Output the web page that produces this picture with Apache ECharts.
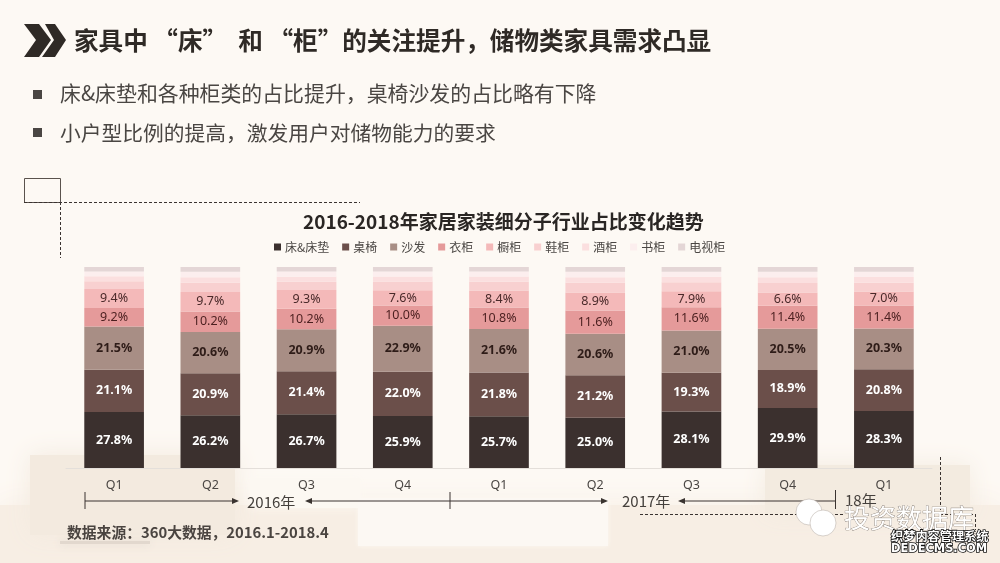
<!DOCTYPE html>
<html>
<head>
<meta charset="utf-8">
<style>
  html, body { margin: 0; padding: 0; background: #fdf9f4; }
  #main { width: 1000px; height: 563px; }
</style>
<script src="https://cdn.jsdelivr.net/npm/echarts@6/dist/echarts.min.js"></script>
</head>
<body>
<div id="main"></div>
<script>
var categories = ['Q1', 'Q2', 'Q3', 'Q4', 'Q1', 'Q2', 'Q3', 'Q4', 'Q1'];
var names = ['床&床垫', '桌椅', '沙发', '衣柜', '橱柜', '鞋柜', '酒柜', '书柜', '电视柜'];
var colors = ['#3b302e', '#6b4f4a', '#a88e85', '#e59a9a', '#f4b9b9', '#f8d0d0', '#fbdfdf', '#fceeee', '#e4d6d6'];

var bed = [27.8, 26.2, 26.7, 25.9, 25.7, 25.0, 28.1, 29.9, 28.3];
var table = [21.1, 20.9, 21.4, 22.0, 21.8, 21.2, 19.3, 18.9, 20.8];
var sofa = [21.5, 20.6, 20.9, 22.9, 21.6, 20.6, 21.0, 20.5, 20.3];
var wardrobe = [9.2, 10.2, 10.2, 10.0, 10.8, 11.6, 11.6, 11.4, 11.4];
var cupboard = [9.4, 9.7, 9.3, 7.6, 8.4, 8.9, 7.9, 6.6, 7.0];
var shoe = [3.9, 4.6, 4.2, 4.4, 4.4, 4.9, 4.5, 4.8, 4.4];
var wine = [2.5, 2.7, 2.5, 2.5, 2.6, 2.7, 2.7, 2.8, 2.8];
var book = [2.4, 2.7, 2.5, 2.4, 2.4, 2.7, 2.5, 2.7, 2.6];
var tv = [2.4, 2.4, 2.3, 2.3, 2.3, 2.4, 2.4, 2.4, 2.4];
var values = [bed, table, sofa, wardrobe, cupboard, shoe, wine, book, tv];

var FONT = '"Noto Sans CJK SC", "Noto Sans", sans-serif';

var labelStyles = [
    { color: '#fff', fontWeight: 'bold' },
    { color: '#fff', fontWeight: 'bold' },
    { color: '#2e1c18', fontWeight: 'bold' },
    { color: '#4a1f1f', fontWeight: 'normal' },
    { color: '#4a2a2a', fontWeight: 'normal' }
];

var series = names.map(function (name, i) {
    return {
        name: name,
        type: 'bar',
        stack: 'total',
        barWidth: '62%',
        itemStyle: { color: colors[i] },
        label: {
            show: i < 5,
            position: 'inside',
            fontFamily: '"Noto Sans", sans-serif',
            fontSize: 12.5,
            color: i < 5 ? labelStyles[i].color : '#000',
            fontWeight: i < 5 ? labelStyles[i].fontWeight : 'normal',
            formatter: function (p) { return p.value.toFixed(1) + '%'; }
        },
        data: values[i]
    };
});

// background shapes, the sofa photo is only hinted at
function bgRect(x, y, w, h, fill, blur) {
    return {
        type: 'rect', z: -5, silent: true,
        shape: { x: x, y: y, width: w, height: h },
        style: { fill: fill, shadowBlur: blur || 0, shadowColor: fill }
    };
}
function line(x1, y1, x2, y2, dashed, color) {
    return {
        type: 'line', z: 5, silent: true,
        shape: { x1: x1, y1: y1, x2: x2, y2: y2 },
        style: { stroke: color || '#3a3330', lineWidth: 1, lineDash: dashed ? [3, 2] : null }
    };
}
function arrowHead(x, y, dir) {
    return {
        type: 'polygon', z: 5, silent: true,
        shape: { points: [[x, y], [x - dir * 7, y - 3], [x - dir * 7, y + 3]] },
        style: { fill: '#3a3330' }
    };
}
function text(x, y, str, size, color, weight, family) {
    return {
        type: 'text', z: 6, silent: true, x: x, y: y,
        style: {
            text: str, fontSize: size, fill: color, fontWeight: weight || 'normal',
            fontFamily: family || FONT, textVerticalAlign: 'middle'
        }
    };
}

var graphics = [
    bgRect(0, 505, 1000, 58, '#f7eee4', 30),
    bgRect(30, 455, 205, 80, '#f3eadf', 24),
    bgRect(765, 465, 205, 50, '#f3ebe0', 24),
    bgRect(60, 541, 90, 3, '#e2d8ce', 10),
    bgRect(250, 478, 110, 30, '#fcf8f2', 10),
    bgRect(358, 498, 250, 48, '#fcf8f3', 4),

    // header
    { type: 'polygon', z: 5, silent: true, shape: { points: [[24, 24], [39, 24], [51, 40], [39, 57], [24, 57], [36, 40]] }, style: { fill: '#2f2a26' } },
    { type: 'polygon', z: 5, silent: true, shape: { points: [[45, 24], [55, 24], [66, 40], [55, 57], [42, 57], [54, 40]] }, style: { fill: '#2f2a26' } },
    text(74, 41, '家具中 “床”  和 “柜”的关注提升，储物类家具需求凸显', 24.6, '#2f2a26', 'bold'),

    bgRect(33, 90, 9, 9, '#4a4643'),
    text(60, 93, '床&床垫和各种柜类的占比提升，桌椅沙发的占比略有下降', 20.9, '#4a4643'),
    bgRect(33, 128, 9, 9, '#4a4643'),
    text(60, 133, '小户型比例的提高，激发用户对储物能力的要求', 20.75, '#4a4643'),

    // dashed frame left over on the slide
    { type: 'rect', z: 5, silent: true, shape: { x: 24.5, y: 178.5, width: 36, height: 24 }, style: { fill: 'none', stroke: '#5a524d', lineWidth: 1 } },
    line(24, 202.5, 360, 202.5, true),
    line(60.5, 202, 60.5, 258, true),
    line(640, 514.5, 845, 514.5, true),
    line(940.5, 457, 940.5, 514, true),
    line(940, 514.5, 975, 514.5, true),
    line(975.5, 514, 975.5, 530, true),

    // year brackets
    line(85, 492, 85, 509),
    line(85, 501, 233, 501),
    arrowHead(239, 501, 1),
    text(247, 502, '2016年', 15, '#45403c'),
    arrowHead(305, 501, -1),
    line(311, 501, 602, 501),
    line(450, 492, 450, 509),
    arrowHead(608, 501, 1),
    text(622, 501, '2017年', 15, '#45403c'),
    arrowHead(678, 501, -1),
    line(684, 501, 835, 501),
    line(835.5, 490, 835.5, 509),
    text(845, 500, '18年', 15, '#45403c'),

    text(67, 532, '数据来源：360大数据，2016.1-2018.4', 14.8, '#4a4440', 'bold'),

    // watermarks
    { type: 'circle', z: 5, silent: true, shape: { cx: 809, cy: 512, r: 13 }, style: { fill: '#fff', stroke: '#b0a69e', lineWidth: 0.5 } },
    { type: 'circle', z: 5, silent: true, shape: { cx: 823, cy: 523, r: 13 }, style: { fill: '#fff', stroke: '#b0a69e', lineWidth: 0.5 } },
    {
        type: 'text', z: 6, silent: true, x: 844, y: 518,
        style: {
            text: '投资数据库', fontSize: 26, fill: '#fff', stroke: '#7d746d', lineWidth: 0.7,
            fontFamily: FONT, textVerticalAlign: 'middle'
        }
    },
    {
        type: 'text', z: 7, silent: true, x: 891, y: 536,
        style: {
            text: '织梦内容管理系统', fontSize: 12.2, fill: '#fff', stroke: '#111', lineWidth: 1.6,
            fontFamily: FONT, fontWeight: 'bold', textVerticalAlign: 'middle'
        }
    },
    {
        type: 'text', z: 7, silent: true, x: 891, y: 549,
        style: {
            text: 'DEDECMS.COM', fontSize: 11.4, fill: '#fff', stroke: '#111', lineWidth: 1.6,
            fontFamily: '"DejaVu Sans", sans-serif', fontWeight: 'bold', textVerticalAlign: 'middle'
        }
    }
];

var myChart = echarts.init(document.getElementById('main'), null, { renderer: 'canvas' });

var option = {
    animation: false,
    backgroundColor: '#fdf9f4',
    title: {
        text: '2016-2018年家居家装细分子行业占比变化趋势',
        left: 298,
        top: 207,
        textStyle: { fontFamily: FONT, fontSize: 19, fontWeight: 'bold', color: '#2a2624' }
    },
    legend: {
        data: names,
        left: 269,
        top: 236,
        icon: 'rect',
        itemWidth: 7,
        itemHeight: 7,
        itemGap: 13,
        textStyle: { fontFamily: FONT, fontSize: 12, color: '#4a4643', padding: [0, 0, 0, -1] }
    },
    grid: { left: 66, right: 68, top: 267, bottom: 95 },
    xAxis: {
        type: 'category',
        data: categories,
        axisTick: { show: false },
        axisLine: { lineStyle: { color: '#e4dfda' } },
        axisLabel: { fontFamily: '"Noto Sans", sans-serif', fontSize: 12.5, color: '#4a4643', margin: 11 }
    },
    yAxis: { type: 'value', min: 0, max: 100, show: false },
    series: series,
    graphic: { elements: graphics }
};
myChart.setOption(option);
</script>
</body>
</html>
